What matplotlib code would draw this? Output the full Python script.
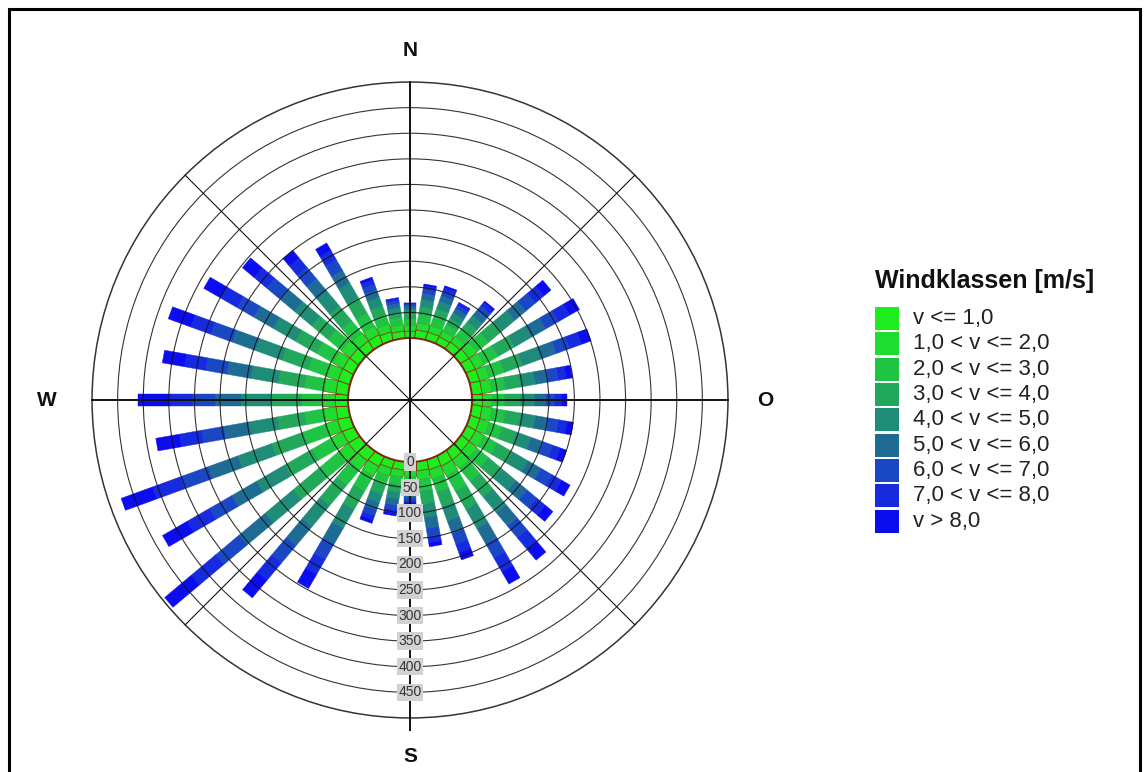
import matplotlib
matplotlib.use("Agg")
import matplotlib.pyplot as plt
from matplotlib.patches import Circle, Rectangle
from matplotlib.transforms import Affine2D
import numpy as np

plt.rcParams['font.family'] = ['Liberation Sans', 'DejaVu Sans']

# Windrichtungen in Grad (von Nord im Uhrzeigersinn)
directions = list(range(0, 360, 10))

class_labels = ["v <= 1,0", "1,0 < v <= 2,0", "2,0 < v <= 3,0", "3,0 < v <= 4,0",
                "4,0 < v <= 5,0", "5,0 < v <= 6,0", "6,0 < v <= 7,0",
                "7,0 < v <= 8,0", "v > 8,0"]
class_colors = ["#1eee1e", "#1edc30", "#20c444", "#22a85a", "#1e8c76",
                "#1e6c94", "#1a48c4", "#162ade", "#0c0cf0"]

# Haeufigkeiten je Windklasse und Richtung (0, 10, ..., 350 Grad)
c1 = [14, 16, 16, 15, 17, 20, 20, 20, 20, 20, 20, 20, 20, 20, 22, 22, 20, 18,
      15, 16, 17, 22, 24, 26, 25, 26, 24, 25, 24, 24, 23, 22, 20, 20, 17, 14]
c2 = [12, 14, 14, 13, 15, 20, 20, 20, 20, 20, 20, 20, 20, 20, 22, 22, 20, 18,
      13, 14, 16, 22, 24, 26, 25, 26, 24, 25, 24, 24, 23, 22, 20, 20, 16, 13]
c3 = [12, 16, 17, 14, 18, 28, 30, 30, 26, 25, 26, 26, 28, 28, 32, 33, 26, 22,
      13, 15, 18, 33, 38, 46, 42, 44, 38, 40, 38, 38, 36, 33, 30, 28, 18, 13]
c4 = [10, 16, 17, 14, 18, 34, 38, 38, 30, 30, 30, 30, 35, 35, 40, 42, 30, 26,
      12, 15, 19, 42, 52, 68, 62, 66, 54, 60, 52, 54, 48, 42, 38, 34, 19, 11]
c5 = [8, 14, 15, 12, 16, 34, 38, 38, 30, 28, 30, 30, 35, 35, 40, 42, 30, 26,
      10, 14, 18, 42, 54, 72, 64, 70, 56, 60, 54, 56, 50, 44, 38, 34, 18, 9]
c6 = [6, 12, 12, 10, 14, 28, 32, 32, 25, 22, 25, 25, 29, 29, 34, 35, 26, 22,
      8, 12, 15, 36, 48, 66, 56, 62, 50, 50, 48, 48, 44, 38, 32, 28, 15, 8]
c7 = [4, 9, 10, 7, 11, 24, 28, 28, 20, 18, 20, 20, 25, 25, 30, 32, 22, 16,
      6, 9, 12, 34, 44, 60, 50, 58, 44, 45, 42, 44, 38, 33, 28, 24, 12, 6]
c8 = [2, 6, 7, 5, 8, 22, 26, 25, 16, 13, 17, 16, 22, 22, 30, 31, 18, 12,
      4, 7, 9, 34, 44, 62, 50, 58, 44, 45, 42, 42, 37, 32, 25, 21, 9, 4]
c9 = [0, 4, 4, 2, 4, 18, 22, 20, 12, 10, 13, 13, 19, 19, 27, 28, 15, 8,
      3, 5, 7, 32, 45, 68, 56, 65, 47, 60, 44, 47, 38, 30, 19, 17, 6, 2]
classes = [c1, c2, c3, c4, c5, c6, c7, c8, c9]

ring_values = [0, 50, 100, 150, 200, 250, 300, 350, 400, 450, 500]
tick_labels = ["0", "50", "100", "150", "200", "250", "300", "350", "400", "450"]
compass_labels = ["N", "O", "S", "W"]
compass_angles = [0, 90, 180, 270]

hole = 121.0      # Radius des Innenkreises in Dateneinheiten
px = 0.512        # Pixel je Einheit
bar_w = 25.0
cx, cy = 410, 400  # Mittelpunkt in Pixeln
W, H = 1146, 772

fig = plt.figure(figsize=(W / 100, H / 100), dpi=100)
ax = fig.add_axes([0, 0, 1, 1])
ax.set_xlim(-cx / px, (W - cx) / px)
ax.set_ylim(-(H - cy) / px, cy / px)
ax.axis('off')

# gestapelte Balken je Richtung
data = np.array(classes)
edges = ['#8a3010', '#6a5a20'] + class_colors[2:]
lws = [0.7, 0.5] + [0.3] * 7
for i, d in enumerate(directions):
    vals = data[:, i]
    bottoms = hole + np.concatenate([[0], np.cumsum(vals)[:-1]])
    rot = Affine2D().rotate_deg(-d) + ax.transData
    ax.bar([0] * 9, vals, width=bar_w, bottom=bottoms, color=class_colors,
           edgecolor=edges, linewidth=lws, transform=rot, zorder=2)

# Ringe
for v in ring_values:
    if v == 0:
        ax.add_patch(Circle((0, 0), hole, fill=False, ec='#7a2a10', lw=1.4, zorder=3))
    else:
        ax.add_patch(Circle((0, 0), hole + v, fill=False, ec='#111111',
                            lw=1.1 if v == 500 else 0.8, alpha=0.85, zorder=3))

# Speichen
r_out = hole + ring_values[-1]
for ang in range(0, 360, 45):
    t = np.deg2rad(ang)
    r_end = r_out + 24 if ang == 180 else r_out
    ax.plot([0, r_end * np.sin(t)], [0, r_end * np.cos(t)], color='#111111',
            lw=1.4 if ang % 90 == 0 else 0.8, zorder=3)

# Skalenbeschriftung nach Sueden
for v, lab in zip(ring_values, tick_labels):
    ax.text(0, -(hole + v), lab, ha='center', va='center', fontsize=10, color='#333333',
            bbox=dict(boxstyle='square,pad=0.12', fc='#d2d2d2', ec='none'), zorder=5)

# Himmelsrichtungen (Abstand vom Mittelpunkt in Pixeln)
compass_offsets = [350, 355, 357, 363]
for lab, ang, off in zip(compass_labels, compass_angles, compass_offsets):
    t = np.deg2rad(ang)
    ax.text(off / px * np.sin(t), off / px * np.cos(t), lab, ha='center', va='center',
            fontsize=15, fontweight='bold', color='#111111')

# Legende und Rahmen in Pixelkoordinaten
lax = fig.add_axes([0, 0, 1, 1])
lax.set_xlim(0, W)
lax.set_ylim(H, 0)
lax.axis('off')
lax.patch.set_alpha(0)

lax.text(875, 281, "Windklassen [m/s]", ha='left', va='center', fontsize=18,
         fontweight='bold', color='#111111')
for k, (lab, col) in enumerate(zip(class_labels, class_colors)):
    top = 307 + 25.35 * k
    lax.add_patch(Rectangle((875, top), 24, 23, fc=col, ec='none'))
    lax.text(913, top + 11.5, lab, ha='left', va='center', fontsize=16, color='#222222')

lax.plot([8.5, 8.5, 1139.5, 1139.5], [H + 5, 8.5, 8.5, H + 5], color='black', lw=2.2,
         solid_joinstyle='miter')

fig.savefig('out.png', dpi=100, facecolor='white')
